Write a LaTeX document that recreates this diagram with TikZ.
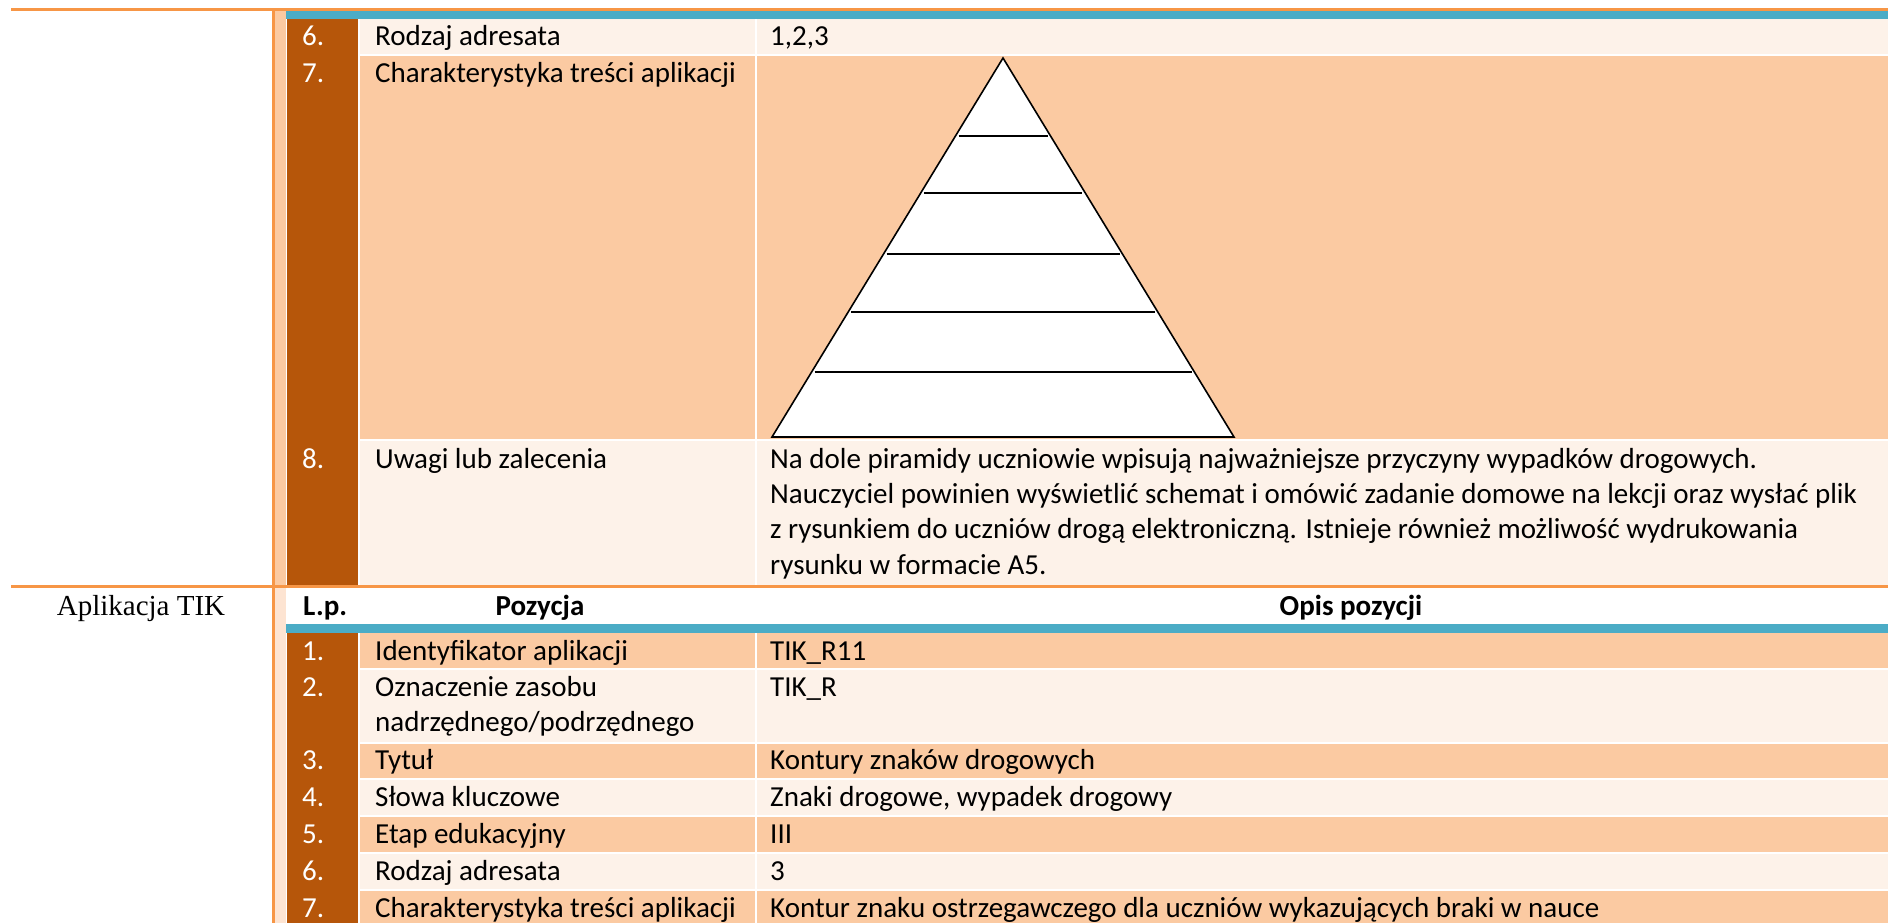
\documentclass[tikz,border=0pt]{standalone}
\usepackage{fontspec}
\setmainfont{Carlito}
\newfontfamily\serifTIK{Liberation Serif}
\definecolor{orng}{HTML}{F79646}
\definecolor{tealbar}{HTML}{4BACC6}
\definecolor{brn}{HTML}{B6560A}
\definecolor{peach}{HTML}{FBCAA2}
\definecolor{lite}{HTML}{FDF2E9}
\definecolor{stripc}{HTML}{FDE4D2}
\newcommand\cellfont{\fontsize{29}{35.4}\selectfont}
\tikzset{
  numtxt/.style={anchor=base west, inner sep=0pt, text=white, font=\cellfont},
  celltxt/.style={anchor=base west, inner sep=0pt, text=black, font=\cellfont},
  headtxt/.style={anchor=base, inner sep=0pt, text=black, font=\cellfont\bfseries},
  pyrline/.style={draw=black, line width=2pt},
  pyrside/.style={draw=black, fill=white, line width=1.6pt, line join=miter}
}
\begin{document}
\begin{tikzpicture}[x=1pt,y=-1pt]
\useasboundingbox (0,0) rectangle (1888,923);
\fill[white] (0,0) rectangle (1888,923);
% ---------- upper table ----------
\fill[peach] (275,11) rectangle (286,585);
\fill[tealbar] (286,11) rectangle (1888,19);
\fill[brn] (287,19) rectangle (357.5,585);
\fill[lite] (360,19) rectangle (755,54);
\fill[lite] (757,19) rectangle (1888,54);
\fill[peach] (360,56) rectangle (755,438.5);
\fill[peach] (757,56) rectangle (1888,438.5);
\fill[lite] (360,441) rectangle (755,585);
\fill[lite] (757,441) rectangle (1888,585);
% ---------- lower table ----------
\fill[stripc] (275,588) rectangle (286,923);
\fill[tealbar] (286,624) rectangle (1888,633);
\fill[brn] (287,633) rectangle (357.5,923);
\fill[peach] (360,633) rectangle (755,668);
\fill[peach] (757,633) rectangle (1888,668);
\fill[lite] (360,670) rectangle (755,741.5);
\fill[lite] (757,670) rectangle (1888,741.5);
\fill[peach] (360,743.5) rectangle (755,778);
\fill[peach] (757,743.5) rectangle (1888,778);
\fill[lite] (360,780) rectangle (755,815);
\fill[lite] (757,780) rectangle (1888,815);
\fill[peach] (360,817) rectangle (755,852);
\fill[peach] (757,817) rectangle (1888,852);
\fill[lite] (360,854) rectangle (755,889);
\fill[lite] (757,854) rectangle (1888,889);
\fill[peach] (360,891) rectangle (755,923);
\fill[peach] (757,891) rectangle (1888,923);
% ---------- orange rules ----------
\fill[orng] (11,8) rectangle (1888,11);
\fill[orng] (11,585) rectangle (1888,588);
\fill[orng] (272,8) rectangle (275,923);
% ---------- pyramid ----------
\coordinate (apex) at (1003,58);
\coordinate (bl) at (772,437);
\coordinate (br) at (1234,437);
\filldraw[pyrside] (apex) -- (br) -- (bl) -- cycle;
\coordinate (p1l) at (958.5,136);  \coordinate (p1r) at (1047.5,136);
\coordinate (p2l) at (924,193);    \coordinate (p2r) at (1082,193);
\coordinate (p3l) at (886.5,254);  \coordinate (p3r) at (1119.5,254);
\coordinate (p4l) at (851,312);    \coordinate (p4r) at (1155,312);
\coordinate (p5l) at (814.5,372);  \coordinate (p5r) at (1191.5,372);
\draw[pyrline] (p1l) -- (p1r);
\draw[pyrline] (p2l) -- (p2r);
\draw[pyrline] (p3l) -- (p3r);
\draw[pyrline] (p4l) -- (p4r);
\draw[pyrline] (p5l) -- (p5r);
% ---------- upper texts ----------
\node[numtxt] (un6) at (302,46) {6.};
\node[celltxt] (ul6) at (375,46) {Rodzaj adresata};
\node[celltxt] (uv6) at (770,46) {1,2,3};
\node[numtxt] (un7) at (302,83) {7.};
\node[celltxt] (ul7) at (375,83) {Charakterystyka treści aplikacji};
\node[numtxt] (un8) at (302,468) {8.};
\node[celltxt] (ul8) at (375,468) {Uwagi lub zalecenia};
\node[celltxt] (uv8a) at (770,468) {Na dole piramidy uczniowie wpisują najważniejsze przyczyny wypadków drogowych.};
\node[celltxt] (uv8b) at (770,503.4) {Nauczyciel powinien wyświetlić schemat i omówić zadanie domowe na lekcji oraz wysłać plik};
\node[celltxt] (uv8c) at (770,538.8) {z rysunkiem do uczniów drogą elektroniczną. Istnieje również możliwość wydrukowania};
\node[celltxt] (uv8d) at (770,574.2) {rysunku w formacie A5.};
% ---------- lower texts ----------
\node[anchor=base, inner sep=0pt, font=\serifTIK\fontsize{29}{35}\selectfont] (apl) at (141,615) {Aplikacja TIK};
\node[headtxt, anchor=base west] (hlp) at (303,615) {L.p.};
\node[headtxt] (hpoz) at (540,615) {Pozycja};
\node[headtxt] (hopis) at (1351,615) {Opis pozycji};
\node[numtxt] (ln1) at (302,660) {1.};
\node[celltxt] (ll1) at (375,660) {Identyfikator aplikacji};
\node[celltxt] (lv1) at (770,660) {TIK\_R11};
\node[numtxt] (ln2) at (302,696.5) {2.};
\node[celltxt] (ll2a) at (375,696.5) {Oznaczenie zasobu};
\node[celltxt] (ll2b) at (375,731.9) {nadrzędnego/podrzędnego};
\node[celltxt] (lv2) at (770,696.5) {TIK\_R};
\node[numtxt] (ln3) at (302,769.5) {3.};
\node[celltxt] (ll3) at (375,769.5) {Tytuł};
\node[celltxt] (lv3) at (770,769.5) {Kontury znaków drogowych};
\node[numtxt] (ln4) at (302,806.5) {4.};
\node[celltxt] (ll4) at (375,806.5) {Słowa kluczowe};
\node[celltxt] (lv4) at (770,806.5) {Znaki drogowe, wypadek drogowy};
\node[numtxt] (ln5) at (302,843.5) {5.};
\node[celltxt] (ll5) at (375,843.5) {Etap edukacyjny};
\node[celltxt] (lv5) at (770,843.5) {III};
\node[numtxt] (ln6) at (302,880.5) {6.};
\node[celltxt] (ll6) at (375,880.5) {Rodzaj adresata};
\node[celltxt] (lv6) at (770,880.5) {3};
\node[numtxt] (ln7) at (302,917.5) {7.};
\node[celltxt] (ll7) at (375,917.5) {Charakterystyka treści aplikacji};
\node[celltxt] (lv7) at (770,917.5) {Kontur znaku ostrzegawczego dla uczniów wykazujących braki w nauce};
\end{tikzpicture}
\end{document}
